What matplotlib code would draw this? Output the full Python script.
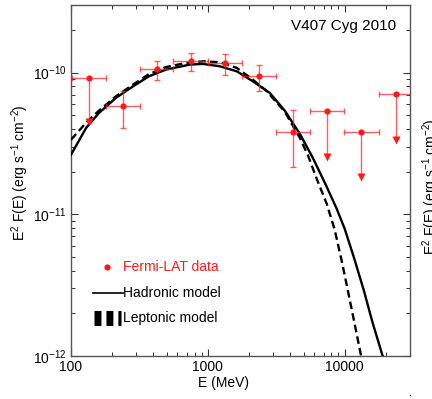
import matplotlib

matplotlib.use("Agg")
import matplotlib.pyplot as plt
from matplotlib.ticker import FixedLocator, FuncFormatter, LogLocator, NullFormatter

# Fermi-LAT detections (MeV, erg s^-1 cm^-2)
det_e = [241, 425, 748, 1331, 2369, 4194]
det_f = [5.78e-11, 1.067e-10, 1.202e-10, 1.171e-10, 9.52e-11, 3.78e-11]
det_e_lo = [180, 318, 560, 1000, 1790, 3170]
det_e_hi = [318, 560, 1000, 1790, 3170, 5620]
det_f_lo = [4.07e-11, 8.92e-11, 1.021e-10, 9.68e-11, 7.38e-11, 2.16e-11]
det_f_hi = [7.38e-11, 1.216e-10, 1.378e-10, 1.362e-10, 1.139e-10, 5.48e-11]

# upper limits
ul_e = [135, 7476, 13240, 23570]
ul_f = [9.22e-11, 5.33e-11, 3.83e-11, 7.10e-11]
ul_e_lo = [102, 5620, 9900, 17700]
ul_e_hi = [180, 9900, 17700, 31600]
ul_f_arrow = [4.5e-11, 2.55e-11, 1.84e-11, 3.35e-11]

# model curves
had_e = [100, 129, 160, 213, 284, 371, 494, 739, 919, 1224, 1628, 2131, 2835, 3648,
         4694, 5840, 7389, 8744, 10000, 11635, 13760, 16010, 18940, 19920]
had_f = [2.63e-11, 4.07e-11, 5.19e-11, 6.63e-11, 8.00e-11, 9.42e-11, 1.050e-10,
         1.139e-10, 1.152e-10, 1.108e-10, 1.021e-10, 8.68e-11, 7.19e-11, 5.39e-11,
         3.71e-11, 2.51e-11, 1.564e-11, 1.093e-11, 7.90e-12, 5.01e-12, 2.93e-12,
         1.71e-12, 1.0e-12, 8.5e-13]
lep_e = [100, 129, 160, 213, 284, 371, 494, 657, 919, 1224, 1628, 2131, 2696, 3648,
         4694, 5370, 6246, 7389, 8453, 9508, 10520, 11830, 13090, 13530]
lep_f = [3.36e-11, 4.43e-11, 5.39e-11, 6.80e-11, 8.23e-11, 9.76e-11, 1.094e-10,
         1.158e-10, 1.202e-10, 1.183e-10, 1.080e-10, 8.92e-11, 7.38e-11, 5.30e-11,
         3.47e-11, 2.63e-11, 1.78e-11, 1.186e-11, 7.77e-12, 4.69e-12, 2.93e-12,
         1.68e-12, 1.033e-12, 8.78e-13]

X_TICKS = [100, 1000, 10000]
RED = "#ff1a1a"
ERR_RED = (1.0, 0.1, 0.1, 0.7)

plt.rcParams.update({
    "font.family": ["Liberation Sans", "DejaVu Sans"],
    "mathtext.fontset": "custom",
    "mathtext.rm": "Liberation Sans",
    "mathtext.it": "Liberation Sans:italic",
    "font.size": 10,
    "lines.scale_dashes": False,
})

fig = plt.figure(figsize=(4.32, 3.99), dpi=100)
ax = fig.add_axes([71 / 432, 1 - 356 / 399, 339 / 432, 351 / 399])
ax.set_xscale("log")
ax.set_yscale("log")
ax.set_xlim(100, 3.0e4)
ax.set_ylim(1e-12, 3.0e-10)

ax.plot(had_e, had_f, color="black", lw=1.7, zorder=3)
ax.plot(lep_e, lep_f, color="black", lw=1.7, dashes=(5.5, 3), zorder=3)

xerr = [[e - lo for e, lo in zip(det_e, det_e_lo)], [hi - e for e, hi in zip(det_e, det_e_hi)]]
yerr = [[f - lo for f, lo in zip(det_f, det_f_lo)], [hi - f for f, hi in zip(det_f, det_f_hi)]]
ax.errorbar(det_e, det_f, xerr=xerr, yerr=yerr, fmt="none", ecolor=ERR_RED,
            elinewidth=1.0, capsize=2, capthick=1.0, zorder=4)
ax.plot(det_e, det_f, "o", color=RED, ms=4.5, mec="none", zorder=5)

for e, f, lo, hi, fa in zip(ul_e, ul_f, ul_e_lo, ul_e_hi, ul_f_arrow):
    ax.errorbar([e], [f], xerr=[[e - lo], [hi - e]], fmt="none", ecolor=ERR_RED,
                elinewidth=1.0, capsize=2, capthick=1.0, zorder=4)
    ax.plot([e, e], [f, fa], color=ERR_RED, lw=1.0, zorder=4)
    ax.plot([e], [fa], "v", color=RED, ms=5.5, mec="none", zorder=5)
ax.plot(ul_e, ul_f, "o", color=RED, ms=4.5, mec="none", zorder=5)

# axes styling
ax.xaxis.set_major_locator(FixedLocator(X_TICKS))
ax.xaxis.set_major_formatter(FuncFormatter(lambda v, _p: f"{v:.0f}"))
ax.xaxis.set_minor_locator(LogLocator(base=10, subs=range(2, 10)))
ax.xaxis.set_minor_formatter(NullFormatter())
ax.yaxis.set_minor_locator(LogLocator(base=10, subs=range(2, 10)))
ax.yaxis.set_minor_formatter(NullFormatter())
ax.tick_params(which="both", direction="in", top=True, right=True, colors="#333333",
               labelcolor="black", labelsize=10)
ax.tick_params(which="major", length=5, width=0.8, pad=3)
ax.tick_params(which="minor", length=3, width=0.7)
for spine in ax.spines.values():
    spine.set_color("#555555")
    spine.set_linewidth(1.0)

ax.set_xlabel("E (MeV)", fontsize=10)
ax.xaxis.set_label_coords((224 - 71) / 339, -0.058)
ax.set_ylabel(r"E$^2$ F(E) (erg s$^{-1}$ cm$^{-2}$)", fontsize=10)
ax.yaxis.set_label_coords(-0.118, (356 - 173) / 351)

fig.text(420 / 432, 1 - 187 / 399, r"E$^2$ F(E) (erg s$^{-1}$ cm$^{-2}$)", rotation=90,
         ha="left", va="center", fontsize=10)
fig.text(410 / 432, 1 - 398 / 399, ".", fontsize=8, ha="center", va="bottom")

ax.text(0.959, 0.94, "V407 Cyg 2010", transform=ax.transAxes, ha="right", va="center",
        fontsize=11)

# hand-drawn legend
ax.plot([0.106], [0.254], "o", color=RED, ms=4.5, mec="none", transform=ax.transAxes,
        clip_on=False)
ax.text(0.153, 0.254, "Fermi-LAT data", color=RED, transform=ax.transAxes,
        ha="left", va="center", fontsize=10)
ax.plot([0.065, 0.152], [0.180, 0.180], color="black", lw=1.2, transform=ax.transAxes)
ax.text(0.153, 0.180, "Hadronic model", transform=ax.transAxes, ha="left", va="center",
        fontsize=10)
ax.plot([0.068, 0.148], [0.108, 0.108], color="black", lw=10.8, dashes=(5.0, 3.6),
        dash_capstyle="butt", transform=ax.transAxes)
ax.text(0.153, 0.108, "Leptonic model", transform=ax.transAxes, ha="left", va="center",
        fontsize=10)

fig.savefig("out.png", dpi=100)
